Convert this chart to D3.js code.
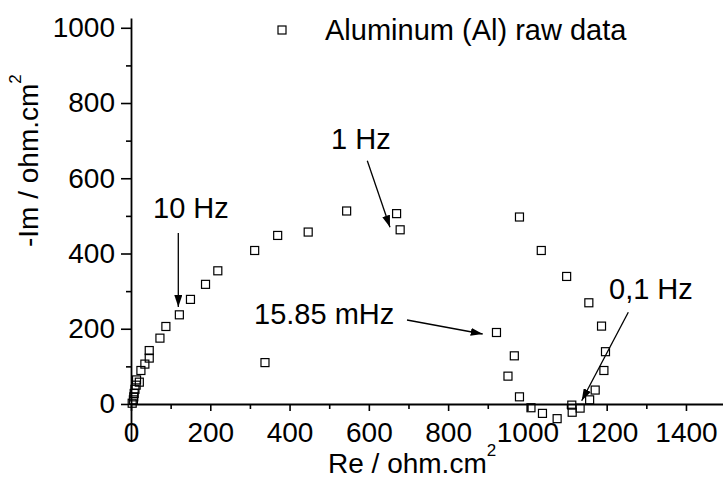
<!DOCTYPE html>
<html>
<head>
<meta charset="utf-8">
<script src="https://cdn.jsdelivr.net/npm/d3@7/dist/d3.min.js"></script>
<style>
  html, body { margin: 0; padding: 0; background: #fff; }
  svg { display: block; font-family: "Liberation Sans", Arial, sans-serif; }
</style>
</head>
<body>
<svg id="chart" width="723" height="479"></svg>
<script>
// Data: Nyquist plot, Aluminum (Al) raw data
const reValues = [3, 6, 7, 8, 10, 13, 21, 14, 25, 35, 46, 46, 73, 88, 122, 150, 188, 219, 312, 370, 447, 544, 670, 679, 338,
                  922, 967, 951, 980, 1009, 1038, 1075, 1112, 1113, 1133, 1157, 1171, 1193, 1197, 1187, 1155, 1099, 1035, 980];
const imValues = [2, 11, 19, 28, 39, 50, 58, 64, 89, 106, 122, 142, 175, 206, 237, 278, 318, 354, 408, 448, 457, 513, 506, 463, 110,
                  190, 128, 74, 19, -10, -25, -39, -3, -22, -11, 11, 37, 89, 139, 207, 269, 339, 408, 497];
const xMajorTicks = [0, 200, 400, 600, 800, 1000, 1200, 1400];
const xMinorTicks = [100, 300, 500, 700, 900, 1100, 1300];
const yMajorTicks = [0, 200, 400, 600, 800, 1000];
const yMinorTicks = [100, 300, 500, 700, 900];
const seriesName = "Aluminum (Al) raw data";
const xTitle = "Re / ohm.cm";
const yTitle = "-Im / ohm.cm";
const annotationLabels = ["10 Hz", "1 Hz", "15.85 mHz", "0,1 Hz"];

const svg = d3.select("#chart");
const x = d3.scaleLinear().domain([0, 1500]).range([131, 725.6]);
const y = d3.scaleLinear().domain([-100, 1026]).range([441.6, 18]);
const FS = 28, FS2 = 29;

// arrow head
svg.append("defs").append("marker")
  .attr("id", "arrow").attr("viewBox", "0 0 12 8").attr("refX", 12).attr("refY", 4)
  .attr("markerWidth", 12).attr("markerHeight", 8).attr("markerUnits", "userSpaceOnUse")
  .attr("orient", "auto")
  .append("path").attr("d", "M0,0 L12,4 L0,8 Z").attr("fill", "#000");

// X axis (crossing at y=0)
const gx = svg.append("g").attr("transform", `translate(0,${y(0)})`);
gx.call(d3.axisBottom(x).tickValues(xMajorTicks).tickSize(7).tickSizeOuter(0).tickPadding(11).tickFormat(d3.format("d")));
gx.append("g").call(d3.axisBottom(x).tickValues(xMinorTicks).tickSize(5).tickFormat(""))
  .select(".domain").remove();
gx.selectAll(".domain").attr("stroke", "#000").attr("stroke-width", 1.8);
gx.selectAll(".tick line").attr("stroke", "#000").attr("stroke-width", 1.6);
gx.selectAll(".tick text").attr("font-size", FS).attr("fill", "#000").attr("font-family", "Liberation Sans, Arial, sans-serif");

// Y axis
const gy = svg.append("g").attr("transform", `translate(${x(0)},0)`);
gy.call(d3.axisLeft(y).tickValues(yMajorTicks).tickSize(10).tickSizeOuter(0).tickPadding(6).tickFormat(d3.format("d")));
gy.append("g").call(d3.axisLeft(y).tickValues(yMinorTicks).tickSize(5).tickFormat(""))
  .select(".domain").remove();
gy.selectAll(".domain").attr("stroke", "#000").attr("stroke-width", 1.8);
gy.selectAll(".tick line").attr("stroke", "#000").attr("stroke-width", 1.6);
gy.selectAll(".tick text").attr("font-size", FS).attr("fill", "#000").attr("font-family", "Liberation Sans, Arial, sans-serif");

// Points
const pts = reValues.map((r, i) => ({ re: r, im: imValues[i] }));
const S = 8;
svg.append("g").selectAll("rect").data(pts).join("rect")
  .attr("x", d => x(d.re) - S / 2).attr("y", d => y(d.im) - S / 2)
  .attr("width", S).attr("height", S)
  .attr("fill", "none").attr("stroke", "#000").attr("stroke-width", 1.2);

// Legend
svg.append("rect").attr("x", 282 - S / 2).attr("y", 30 - S / 2).attr("width", S).attr("height", S)
  .attr("fill", "none").attr("stroke", "#000").attr("stroke-width", 1.2);
svg.append("text").attr("x", 325).attr("y", 40).attr("font-size", FS2).attr("fill", "#000").text(seriesName);

// Axis titles
const xt = svg.append("text").attr("x", 328).attr("y", 473).attr("font-size", FS).attr("fill", "#000");
xt.append("tspan").text(xTitle);
xt.append("tspan").attr("font-size", 17).attr("dy", -17).text("2");

const yt = svg.append("text").attr("transform", "translate(38,247) rotate(-90)").attr("font-size", FS).attr("fill", "#000");
yt.append("tspan").text(yTitle);
yt.append("tspan").attr("font-size", 17).attr("dy", -17).text("2");

// Annotations (label text + arrow, positioned in the plot's pixel layout)
const annLayout = [
  { tx: 153, ty: 218, x1: 178.3, y1: 233, x2: 178.3, y2: 307 },
  { tx: 331, ty: 149, x1: 367.3, y1: 160.7, x2: 390, y2: 227.3 },
  { tx: 254, ty: 324, x1: 407, y1: 320, x2: 482.7, y2: 334 },
  { tx: 609, ty: 299, x1: 628.3, y1: 312.3, x2: 581.7, y2: 400.7 }
];
annotationLabels.forEach((label, i) => {
  const L = annLayout[i];
  svg.append("text").attr("x", L.tx).attr("y", L.ty).attr("font-size", FS2).attr("fill", "#000").text(label);
  svg.append("line").attr("x1", L.x1).attr("y1", L.y1).attr("x2", L.x2).attr("y2", L.y2)
    .attr("stroke", "#000").attr("stroke-width", 1.3).attr("marker-end", "url(#arrow)");
});
</script>
</body>
</html>
